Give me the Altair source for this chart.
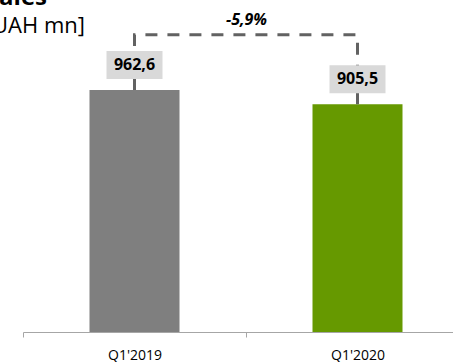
import altair as alt
import pandas as pd

categories = ["Q1'2019", "Q1'2020"]
values = [962.6, 905.5]
bar_colors = ["#7f7f7f", "#669900"]
title_text = "Sales"
unit_text = "[UAH mn]"

labels = [f"{v:.1f}".replace(".", ",") for v in values]
change = (values[1] / values[0] - 1) * 100
change_text = f"{change:.1f}".replace(".", ",") + "%"

df = pd.DataFrame({"cat": categories, "value": values, "label": labels, "color": bar_colors})

bracket_top = max(values) + 219
br = pd.DataFrame({
    "cat": [categories[0], categories[0], categories[1], categories[1]],
    "value": [values[0], bracket_top, bracket_top, values[1]],
    "idx": [0, 1, 2, 3],
})

FONT = "Open Sans"
xscale = alt.Scale(domain=categories, range=[0, 446], paddingInner=0, paddingOuter=0)
yscale = alt.Scale(domain=[0, 1320], nice=False)

x = alt.X("cat:N", scale=xscale, sort=categories,
          axis=alt.Axis(title=None, labelAngle=0, tickBand="extent", domainColor="#a6a6a6",
                        tickColor="#a6a6a6", tickSize=5, labelPadding=11, labelFontSize=14,
                        labelFont=FONT, labelColor="#000000"))
y = alt.Y("value:Q", scale=yscale, axis=None)

bars = alt.Chart(df).mark_bar(size=90).encode(
    x=x, y=y, color=alt.Color("color:N", scale=None)
)

bracket = alt.Chart(br).mark_line(color="#626262", strokeWidth=3, strokeDash=[12, 10],
                                  strokeCap="butt").encode(
    x=alt.X("cat:N", scale=xscale, sort=categories), y=alt.Y("value:Q", scale=yscale), order="idx:Q"
)

connector = alt.Chart(df).mark_rule(color="#626262", strokeWidth=3, y2Offset=-20).encode(
    x=alt.X("cat:N", scale=xscale, sort=categories), y=alt.Y("value:Q", scale=yscale), y2="value:Q"
)

box = alt.Chart(df).mark_point(shape="M-1,-0.5L1,-0.5L1,0.5L-1,0.5Z", filled=True, fill="#d9d9d9",
                               opacity=1, strokeWidth=0, size=3136, yOffset=-25).encode(
    x=alt.X("cat:N", scale=xscale, sort=categories), y=alt.Y("value:Q", scale=yscale)
)

box_text = alt.Chart(df).mark_text(font=FONT, fontSize=16, fontWeight="bold", color="#000000",
                                   baseline="middle", yOffset=-25).encode(
    x=alt.X("cat:N", scale=xscale, sort=categories), y=alt.Y("value:Q", scale=yscale), text="label:N"
)

change_df = pd.DataFrame({"value": [bracket_top], "text": [change_text]})
change_mark = alt.Chart(change_df).mark_text(font=FONT, fontSize=16, fontWeight="bold",
                                              fontStyle="italic", color="#000000",
                                              baseline="middle", yOffset=-15).encode(
    x=alt.value(223.5), y=alt.Y("value:Q", scale=yscale), text="text:N"
)

title_df = pd.DataFrame({"t": [title_text]})
title_mark = alt.Chart(title_df).mark_text(font=FONT, fontSize=24, fontWeight="bold", color="#000000",
                                           align="right", baseline="alphabetic").encode(
    x=alt.value(24), y=alt.value(5), text="t:N"
)
unit_df = pd.DataFrame({"t": [unit_text]})
unit_mark = alt.Chart(unit_df).mark_text(font=FONT, fontSize=22, color="#000000",
                                         align="right", baseline="alphabetic").encode(
    x=alt.value(62), y=alt.value(33), text="t:N"
)

chart = alt.layer(bars, bracket, connector, box, box_text, change_mark, title_mark, unit_mark).properties(
    width=430, height=332,
    autosize=alt.AutoSizeParams(type="none"),
    padding={"left": 23, "top": 0, "right": 0, "bottom": 30},
    background="#ffffff",
).configure_view(stroke=None)

chart.save("out.html", embed_options={"renderer": "svg", "actions": False})
